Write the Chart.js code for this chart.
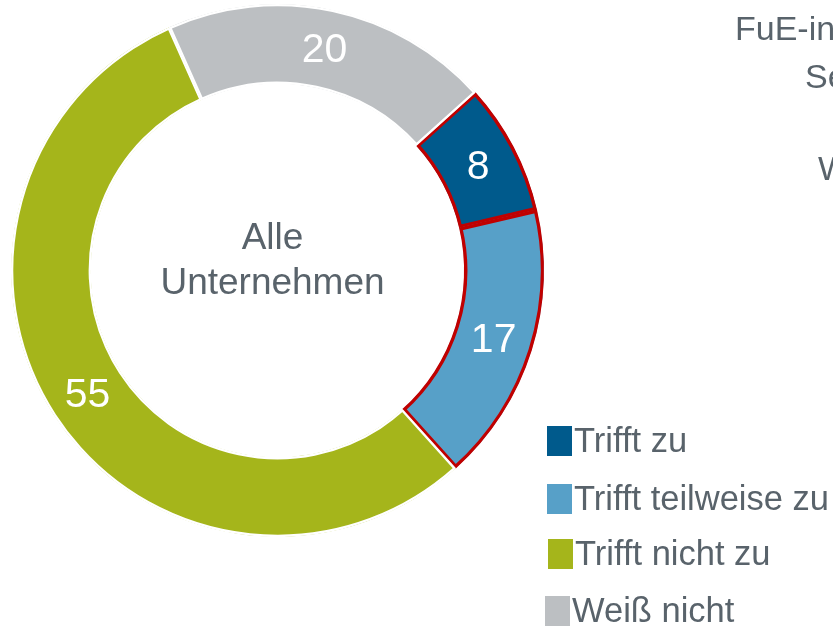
<!DOCTYPE html>
<html>
<head>
<meta charset="utf-8">
<script src="https://cdn.jsdelivr.net/npm/chart.js@4.4.0/dist/chart.umd.min.js"></script>
<style>
  html, body { margin: 0; padding: 0; background: #fff; overflow: hidden; }
  #wrap { position: relative; width: 833px; height: 629px; }
</style>
</head>
<body>
<div id="wrap"><canvas id="donut" width="833" height="629"></canvas></div>
<script>
// data
const categories = ['Trifft zu', 'Trifft teilweise zu', 'Trifft nicht zu', 'Weiß nicht'];
const shares = [8, 17, 55, 20];
const sliceColors = ['#005a8c', '#57a0c8', '#a5b51b', '#bcbfc2'];
const sliceBorders = ['#c00000', '#c00000', '#ffffff', '#ffffff'];
const centerLines = ['Alle', 'Unternehmen'];
// heading on the right, cut off by the picture edge
const titleLines = [
    { text: 'FuE-intensive Unternehmen', x: 735, y: 31 },
    { text: 'Sektor', x: 805, y: 79 },
    { text: 'Wirtschaft', x: 818, y: 171 }
];

const textGrey = '#59636b';
const fontFam = '"Liberation Sans", Arial, sans-serif';

// white numbers in the middle of each slice
const sliceLabels = {
    id: 'sliceLabels',
    afterDatasetsDraw(chart) {
        const ctx = chart.ctx;
        const meta = chart.getDatasetMeta(0);
        ctx.save();
        ctx.fillStyle = '#ffffff';
        ctx.font = '41px ' + fontFam;
        ctx.textAlign = 'center';
        ctx.textBaseline = 'middle';
        meta.data.forEach((arc, i) => {
            const p = arc.tooltipPosition();
            ctx.fillText(String(shares[i]), p.x, p.y + 2);
        });
        ctx.restore();
    }
};

// text in the hole, title on the right and the legend boxes
const extras = {
    id: 'extras',
    afterDraw(chart) {
        const ctx = chart.ctx;
        const arc = chart.getDatasetMeta(0).data[0];
        ctx.save();
        ctx.fillStyle = textGrey;
        ctx.font = '37px ' + fontFam;
        ctx.textAlign = 'center';
        ctx.textBaseline = 'middle';
        ctx.fillText(centerLines[0], arc.x - 5, arc.y - 32);
        ctx.fillText(centerLines[1], arc.x - 5, arc.y + 13);

        ctx.textAlign = 'left';
        ctx.font = '34px ' + fontFam;
        titleLines.forEach(t => ctx.fillText(t.text, t.x, t.y));

        const legendY = [440, 498, 553, 610];
        const legendX = [547, 547, 548, 545];
        ctx.font = '34.5px ' + fontFam;
        categories.forEach((name, i) => {
            ctx.fillStyle = sliceColors[i];
            ctx.fillRect(legendX[i], legendY[i] - 14, 25, 30);
            ctx.fillStyle = textGrey;
            ctx.fillText(name, legendX[i] + 27, legendY[i] + 2);
        });
        ctx.restore();
    }
};

new Chart(document.getElementById('donut'), {
    type: 'doughnut',
    data: {
        labels: categories,
        datasets: [{
            data: shares,
            backgroundColor: sliceColors,
            borderColor: sliceBorders,
            borderWidth: [3, 3, 2, 2],
            borderAlign: 'inner'
        }]
    },
    options: {
        responsive: false,
        animation: false,
        cutout: '70%',
        rotation: 48,
        layout: { padding: { left: 10, top: 4, right: 288, bottom: 92 } },
        plugins: {
            legend: { display: false },
            tooltip: { enabled: false }
        }
    },
    plugins: [sliceLabels, extras]
});
</script>
</body>
</html>
